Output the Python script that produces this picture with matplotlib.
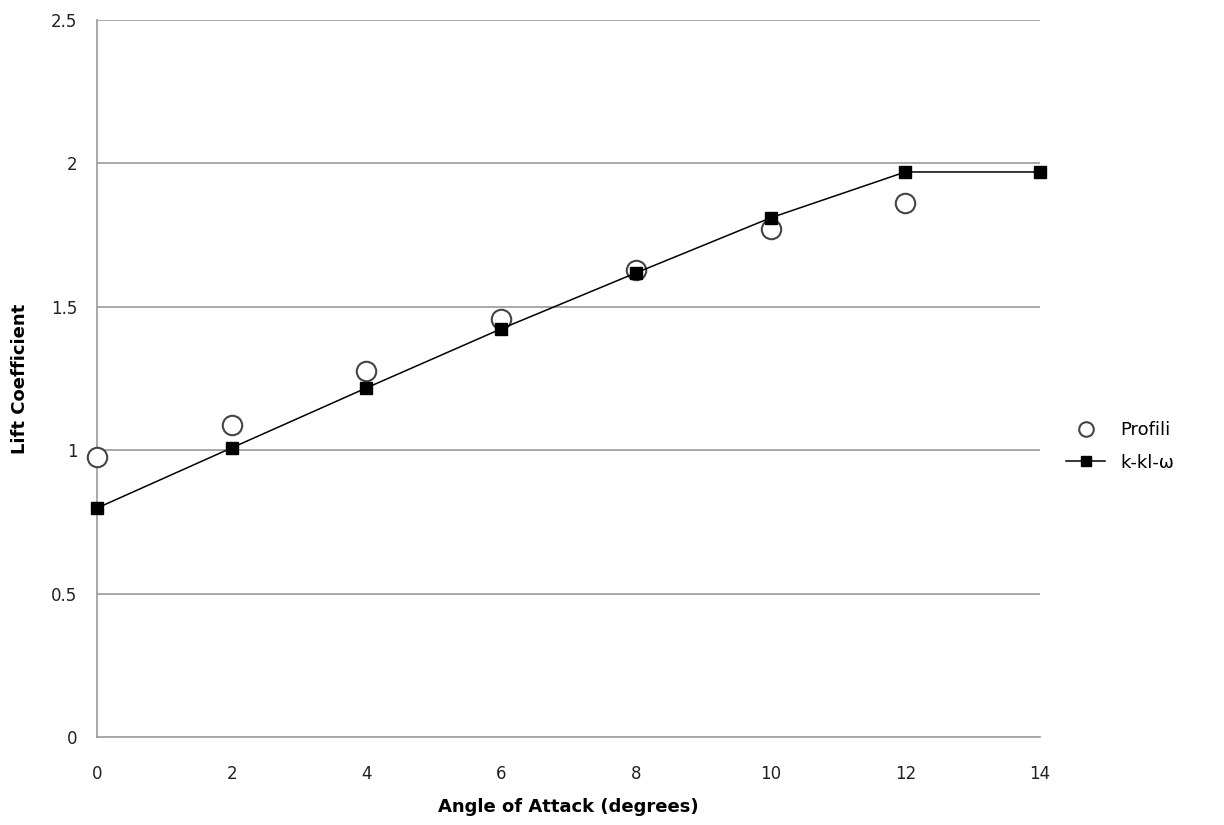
import matplotlib.pyplot as plt

# angle of attack (degrees)
angles = [0, 2, 4, 6, 8, 10, 12, 14]
# Profili results (no value at 14)
profili_x = [0, 2, 4, 6, 8, 10, 12]
profili_cl = [0.976, 1.088, 1.276, 1.457, 1.628, 1.771, 1.862]
# k-kl-omega model
kklw_cl = [0.798, 1.008, 1.217, 1.423, 1.618, 1.810, 1.970, 1.970]

x_ticks = [0, 2, 4, 6, 8, 10, 12, 14]
y_ticks = [0, 0.5, 1, 1.5, 2, 2.5]

plt.rcParams['font.family'] = ['DejaVu Sans']

fig = plt.figure(figsize=(12.24, 8.25), dpi=100)
ax = fig.add_axes([0.0792, 0.1067, 0.7705, 0.8691])

grid_col = '#999999'
for y in y_ticks[1:]:
    ax.axhline(y, color=grid_col, lw=1.2, zorder=1)

ax.plot(profili_x, profili_cl, linestyle='none', marker='o', markersize=14,
        markerfacecolor='white', markeredgecolor='#444444', markeredgewidth=1.5,
        label='Profili', zorder=3, clip_on=False)
ax.plot(angles, kklw_cl, color='black', lw=1.1, marker='s', markersize=9,
        markerfacecolor='black', label='k-kl-\u03c9', zorder=4, clip_on=False)

ax.set_xlim(0, 14)
ax.set_ylim(0, 2.5)
ax.set_xticks(x_ticks)
ax.set_xticklabels([str(v) for v in x_ticks])
ax.set_yticks(y_ticks)
ax.set_yticklabels(['0', '0.5', '1', '1.5', '2', '2.5'])
ax.tick_params(length=0, labelsize=12, colors='#222222')
ax.tick_params(axis='x', pad=20)
ax.tick_params(axis='y', pad=14)

for s in ['top', 'right']:
    ax.spines[s].set_visible(False)
for s in ['left', 'bottom']:
    ax.spines[s].set_color(grid_col)
    ax.spines[s].set_linewidth(1.2)

ax.set_xlabel('Angle of Attack (degrees)', fontsize=13, fontweight='bold')
ax.set_ylabel('Lift Coefficient', fontsize=13, fontweight='bold')
ax.xaxis.set_label_coords(0.5, -0.085)
ax.yaxis.set_label_coords(-0.072, 0.5)

ax.legend(loc='center left', bbox_to_anchor=(1.01, 0.405), frameon=False,
          fontsize=13, handlelength=2.2, markerscale=0.75, labelspacing=0.8)

fig.savefig('out.png', dpi=100)
